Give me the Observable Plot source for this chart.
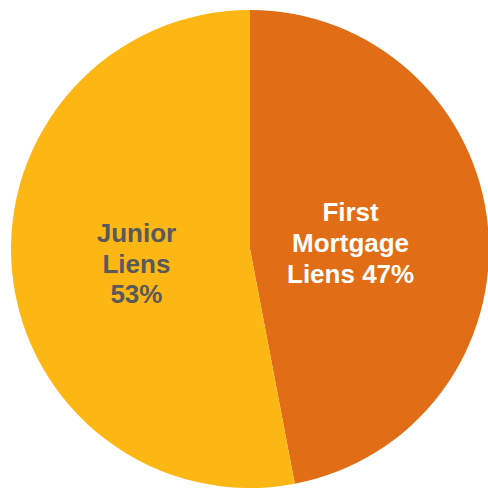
<!DOCTYPE html>
<html>
<head>
<meta charset="utf-8">
<script src="https://cdn.jsdelivr.net/npm/d3@7"></script>
<script src="https://cdn.jsdelivr.net/npm/@observablehq/plot@0.6"></script>
<style>
  html, body { margin: 0; padding: 0; background: #fff; }
</style>
</head>
<body>
<div id="chart"></div>
<script>
const categories = ["First Mortgage Liens", "Junior Liens"];
const shares = [47, 53];
const labels = [["First", "Mortgage", "Liens 47%"], ["Junior", "Liens", "53%"]];
const colors = ["#E16D16", "#FDB714"];
const textColors = ["#FFFFFF", "#595959"];

const data = categories.map((c, i) => ({category: c, share: shares[i], lines: labels[i], color: colors[i], textColor: textColors[i]}));
const arcs = d3.pie().sort(null).value(d => d.share)(data);

const labelR = 0.45;
const labelData = arcs.map(a => {
  const m = (a.startAngle + a.endAngle) / 2;
  return {x: labelR * Math.sin(m), y: labelR * Math.cos(m), text: a.data.lines.join("\n"), fill: a.data.textColor};
});

function pieMark(index, scales, values, dimensions) {
  const sx = scales.x, sy = scales.y;
  const cx = sx(0), cy = sy(0);
  const r = Math.abs(sx(1) - sx(0));
  const arcGen = d3.arc().innerRadius(0).outerRadius(r);
  const g = d3.create("svg:g").attr("transform", `translate(${cx},${cy})`);
  g.selectAll("path").data(arcs).join("path")
    .attr("d", arcGen)
    .attr("fill", d => d.data.color);
  return g.node();
}

const chart = Plot.plot({
  width: 488,
  height: 488,
  margin: 0,
  x: {domain: [-1, 1], range: [11, 489], axis: null},
  y: {domain: [-1, 1], range: [488, 10], axis: null},
  style: {background: "#fff", overflow: "hidden"},
  marks: [
    pieMark,
    Plot.text(labelData, {
      x: "x", y: "y", text: "text", fill: d => d.fill,
      dy: 3, dx: -7,
      fontSize: 26, fontWeight: "bold",
      fontFamily: "Liberation Sans, Arial, sans-serif",
      lineHeight: 1.19, textAnchor: "middle", lineAnchor: "middle"
    })
  ]
});
document.getElementById("chart").appendChild(chart);
</script>
</body>
</html>
